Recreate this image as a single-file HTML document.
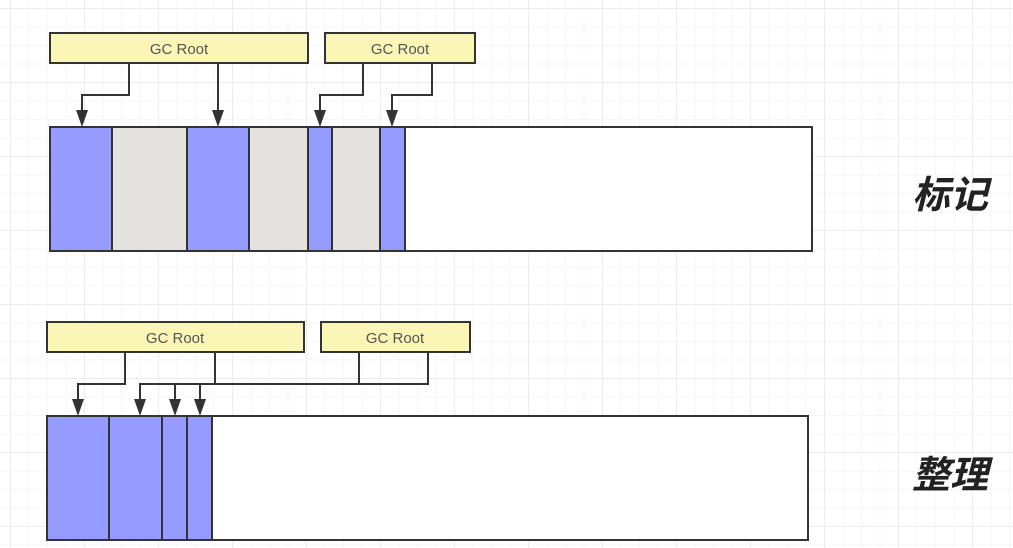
<!DOCTYPE html>
<html><head><meta charset="utf-8"><style>
html,body{margin:0;padding:0;background:#fff;}
body{width:1013px;height:548px;overflow:hidden;position:relative;
background-image:linear-gradient(#ececec 1px,transparent 1px),linear-gradient(90deg,#ececec 1px,transparent 1px),linear-gradient(#f6f6f6 1px,transparent 1px),linear-gradient(90deg,#f6f6f6 1px,transparent 1px);
background-size:74px 74px,74px 74px,18.5px 18.5px,18.5px 18.5px;background-position:10px 8px;}
</style></head><body>
<svg width="1013" height="548" style="position:absolute;left:0;top:0" font-family="Liberation Sans, sans-serif">
<defs><marker id="a" markerWidth="10" markerHeight="10" refX="5" refY="9" orient="auto" markerUnits="userSpaceOnUse"><path d="M0,0 L10,0 L5,10 z" fill="#333" transform="rotate(-90 5 5)"/></marker></defs>
<g stroke="#333" stroke-width="2">
<!-- top -->
<rect x="50" y="33" width="258" height="30" fill="#fbf6b6"/>
<rect x="325" y="33" width="150" height="30" fill="#fbf6b6"/>
<rect x="50" y="127" width="762" height="124" fill="#fff"/>
<rect x="50" y="127" width="62" height="124" fill="#959bff"/>
<rect x="112" y="127" width="75" height="124" fill="#e3e2de"/>
<rect x="187" y="127" width="62" height="124" fill="#959bff"/>
<rect x="249" y="127" width="59" height="124" fill="#e3e2de"/>
<rect x="308" y="127" width="24" height="124" fill="#959bff"/>
<rect x="332" y="127" width="48" height="124" fill="#e3e2de"/>
<rect x="380" y="127" width="25" height="124" fill="#959bff"/>
<polyline points="129,63 129,95 82,95 82,116" fill="none"/>
<line x1="218" y1="63" x2="218" y2="116"/>
<polyline points="363,63 363,95 320,95 320,116" fill="none"/>
<polyline points="432,63 432,95 392,95 392,116" fill="none"/>
<!-- bottom -->
<rect x="47" y="322" width="257" height="30" fill="#fbf6b6"/>
<rect x="321" y="322" width="149" height="30" fill="#fbf6b6"/>
<rect x="47" y="416" width="761" height="124" fill="#fff"/>
<rect x="47" y="416" width="62" height="124" fill="#959bff"/>
<rect x="109" y="416" width="53" height="124" fill="#959bff"/>
<rect x="162" y="416" width="25" height="124" fill="#959bff"/>
<rect x="187" y="416" width="25" height="124" fill="#959bff"/>
<polyline points="125,352 125,384 78,384 78,405" fill="none"/>
<line x1="215" y1="352" x2="215" y2="384"/>
<line x1="359" y1="352" x2="359" y2="384"/>
<polyline points="428,352 428,384 140,384 140,405" fill="none"/>
<line x1="175" y1="384" x2="175" y2="405"/>
<line x1="200" y1="384" x2="200" y2="405"/>
</g>
<g fill="#333">
<path d="M76,110 L88,110 L82,127 z"/><path d="M212,110 L224,110 L218,127 z"/>
<path d="M314,110 L326,110 L320,127 z"/><path d="M386,110 L398,110 L392,127 z"/>
<path d="M72,399 L84,399 L78,416 z"/><path d="M134,399 L146,399 L140,416 z"/>
<path d="M169,399 L181,399 L175,416 z"/><path d="M194,399 L206,399 L200,416 z"/>
</g>
<g font-size="15" fill="#555" text-anchor="middle">
<text x="179" y="54">GC Root</text><text x="400" y="54">GC Root</text>
<text x="175" y="343">GC Root</text><text x="395" y="343">GC Root</text>
</g>
<g font-family="Liberation Sans, Noto Sans CJK SC, sans-serif" font-size="38" font-weight="bold" font-style="italic" fill="#222">
<text x="912" y="208" transform="skewX(0)">标记</text>
<text x="912" y="488">整理</text>
</g>
</svg>
</body></html>
